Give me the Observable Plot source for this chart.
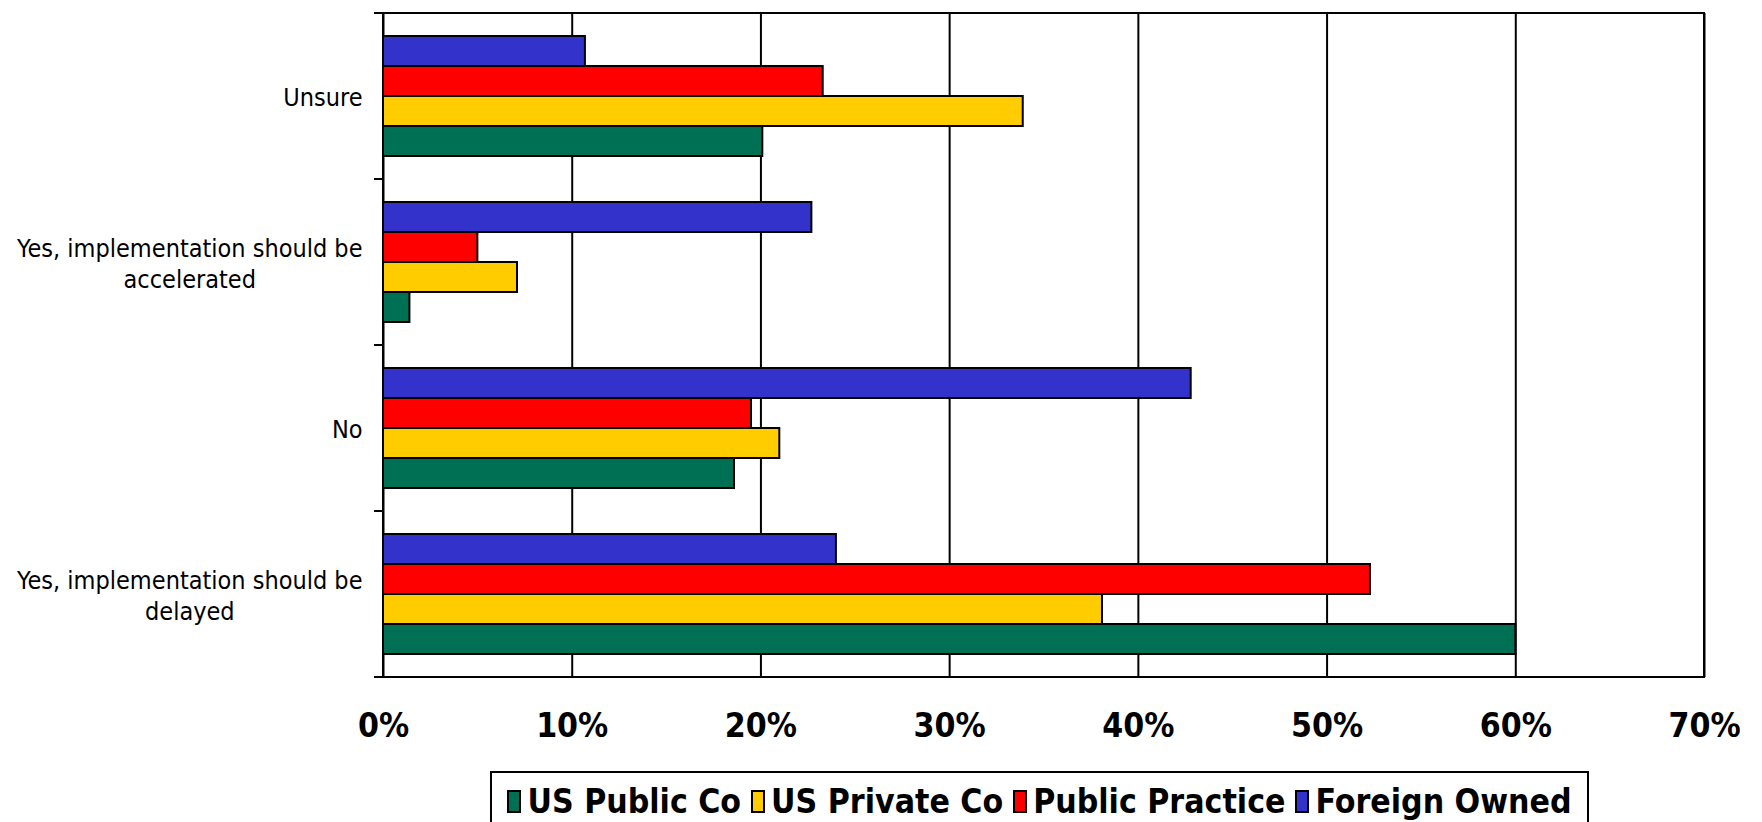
<!DOCTYPE html>
<html>
<head>
<meta charset="utf-8">
<script src="https://cdn.jsdelivr.net/npm/d3@7"></script>
<script src="https://cdn.jsdelivr.net/npm/@observablehq/plot@0.6"></script>
<style>
  html, body { margin: 0; padding: 0; background: #fff; width: 1762px; height: 822px; overflow: hidden; }
  #wrap { position: relative; width: 1762px; height: 822px; }
  #legend {
    position: absolute; left: 490px; top: 771px; width: 1099px; height: 80px;
    border: 2px solid #000; box-sizing: border-box; background: #fff;
    display: flex; justify-content: center; align-items: center; align-content: flex-start;
    padding-bottom: 20px;
    font-family: "DejaVu Sans Condensed", "DejaVu Sans", sans-serif; font-weight: bold; font-size: 33.5px; color: #000;
  }
  .item { display: flex; align-items: center; margin: 0 5px; white-space: nowrap; }
  .sw { display: inline-block; width: 14px; height: 23px; border: 2px solid #000; box-sizing: border-box; margin-right: 6px; }
</style>
</head>
<body>
<div id="wrap">
  <div id="chart"></div>
  <div id="legend"></div>
</div>
<script>
// ---- data (percent) ----
const categories = ["Unsure", "Yes, implementation should be accelerated", "No", "Yes, implementation should be delayed"];
const categoryLabels = ["Unsure", "Yes, implementation should be\naccelerated", "No", "Yes, implementation should be\ndelayed"];
const series = ["US Public Co", "US Private Co", "Public Practice", "Foreign Owned"];
const seriesColors = ["#007055", "#FFCC00", "#FF0000", "#3333CC"];
const usPublicCo     = [20.1, 1.4, 18.6, 60.0];
const usPrivateCo    = [33.9, 7.1, 21.0, 38.1];
const publicPractice = [23.3, 5.0, 19.5, 52.3];
const foreignOwned   = [10.7, 22.7, 42.8, 24.0];
const xTicks = [0, 10, 20, 30, 40, 50, 60, 70];

const seriesValues = [usPublicCo, usPrivateCo, publicPractice, foreignOwned];
const rows = categories.flatMap((c, i) => series.map((s, j) => ({category: c, series: s, value: seriesValues[j][i]})));
const labelOf = new Map(categories.map((c, i) => [c, categoryLabels[i]]));

const FONT = '"DejaVu Sans Condensed", "DejaVu Sans", sans-serif';

const chart = Plot.plot({
  width: 1762,
  height: 765,
  marginTop: 11,
  marginLeft: 383,
  marginRight: 58,
  marginBottom: 87,
  style: {fontFamily: FONT, color: "#000", background: "#fff", overflow: "visible"},
  x: {domain: [0, 70], label: null},
  y: {domain: series.slice().reverse(), paddingInner: 0, paddingOuter: 0.75, axis: null, label: null},
  fy: {domain: categories, padding: 0, label: null},
  color: {domain: series, range: seriesColors},
  marks: [
    Plot.ruleX(xTicks, {stroke: "#000", strokeWidth: 2}),
    Plot.barX(rows, {fy: "category", y: "series", x: "value", fill: "series", stroke: "#000", strokeWidth: 2}),
    Plot.axisX(xTicks, {anchor: "bottom", tickSize: 8, tickPadding: 28, tickFormat: d => d + "%",
      fontSize: 33.5, fontWeight: "bold", stroke: null, label: null}),
    Plot.axisFy({anchor: "left", tickSize: 0, tickPadding: 21, fontSize: 25, lineHeight: 1.24,
      tickFormat: d => labelOf.get(d), label: null})
  ]
});
document.getElementById("chart").appendChild(chart);

// center multi-line category labels within their right-aligned block
chart.querySelectorAll('[aria-label="fy-axis tick label"] text').forEach(t => {
  const spans = t.querySelectorAll("tspan");
  if (spans.length < 2) return;
  let w = 0;
  spans.forEach(s => { w = Math.max(w, s.getComputedTextLength()); });
  t.setAttribute("text-anchor", "middle");
  spans.forEach(s => s.setAttribute("x", -w / 2));
});

// frame and category boundary ticks, from the plot's own scales
const xs = chart.scale("x"), fys = chart.scale("fy");
const xl = xs.apply(0), xr = xs.apply(70);
const bounds = categories.map(c => fys.apply(c));
bounds.push(fys.apply(categories[categories.length - 1]) + fys.bandwidth);
const svg = d3.select(chart.tagName.toLowerCase() === "svg" ? chart : chart.querySelector("svg"));
const g = svg.append("g").attr("stroke", "#000").attr("stroke-width", 2).attr("fill", "none");
g.append("rect").attr("x", xl).attr("y", bounds[0]).attr("width", xr - xl).attr("height", bounds[bounds.length - 1] - bounds[0]);
bounds.forEach(b => g.append("line").attr("x1", xl - 9).attr("x2", xl).attr("y1", b).attr("y2", b));

// legend
const legend = d3.select("#legend");
series.forEach((s, i) => {
  const it = legend.append("div").attr("class", "item");
  it.append("span").attr("class", "sw").style("background", seriesColors[i]);
  it.append("span").text(s);
});
</script>
</body>
</html>
